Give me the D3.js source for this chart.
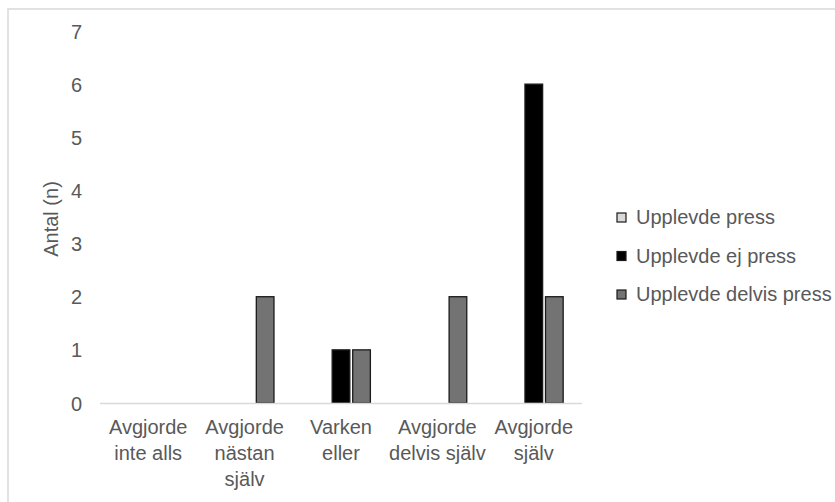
<!DOCTYPE html>
<html><head><meta charset="utf-8">
<script src="https://cdn.jsdelivr.net/npm/d3@7"></script>
<style>body{margin:0;background:#fff;} svg{display:block;font-family:"Liberation Sans",Arial,Helvetica,sans-serif;}</style>
</head><body>
<script>
const categories = ["Avgjorde inte alls", "Avgjorde nästan själv", "Varken eller", "Avgjorde delvis själv", "Avgjorde själv"];
const categoryLines = [["Avgjorde","inte alls"],["Avgjorde","nästan","själv"],["Varken","eller"],["Avgjorde","delvis själv"],["Avgjorde","själv"]];
const seriesNames = ["Upplevde press", "Upplevde ej press", "Upplevde delvis press"];
const pressValues = [0, 0, 0, 0, 0];
const ejPressValues = [0, 0, 1, 0, 6];
const delvisPressValues = [0, 2, 1, 2, 2];
const yTicks = [0, 1, 2, 3, 4, 5, 6, 7];
const colors = ["#d9d9d9", "#000000", "#737373"];

const seriesValues = [pressValues, ejPressValues, delvisPressValues];
const W = 835, H = 502;
const svg = d3.select("body").append("svg").attr("width", W).attr("height", H);

svg.append("rect").attr("x", 8).attr("y", 9).attr("width", 900).attr("height", 600)
  .attr("fill", "#fff").attr("stroke", "#d9d9d9").attr("stroke-width", 1.5);

const x = d3.scaleBand().domain(categories).range([100, 582]);
const x1 = d3.scaleBand().domain(seriesNames).range([-32.25, 32.25]).padding(0.14);
const y = d3.scaleLinear().domain([0, 7]).range([403, 31]);
const textColor = "#595959";
const fs = 20;

// y tick labels
const yAxis = d3.axisLeft(y).tickValues(yTicks).tickSize(0).tickPadding(0).tickFormat(d3.format("d"));
const gy = svg.append("g").attr("transform", "translate(82,0)").call(yAxis);
gy.select(".domain").remove();
gy.selectAll("text").attr("fill", textColor).style("font-size", fs + "px").attr("dy", "0.35em").attr("x", 0);

// axis title
svg.append("text").attr("transform", "translate(51,219) rotate(-90)")
  .attr("text-anchor", "middle").attr("dy", "0.35em")
  .attr("fill", textColor).style("font-size", fs + "px").text("Antal (n)");

// bars
const groups = svg.append("g").selectAll("g").data(categories).join("g")
  .attr("transform", d => `translate(${x(d) + x.bandwidth() / 2},0)`);
groups.selectAll("rect").data((d, i) => seriesNames.map((s, j) => ({s, j, v: seriesValues[j][i]})).filter(e => e.v > 0))
  .join("rect")
  .attr("x", e => x1(e.s)).attr("width", x1.bandwidth())
  .attr("y", e => y(e.v)).attr("height", e => y(0) - y(e.v))
  .attr("fill", e => colors[e.j]).attr("stroke", "#1a1a1a").attr("stroke-width", 1.3);

// baseline
svg.append("line").attr("x1", 100).attr("x2", 582).attr("y1", y(0) + 0.5).attr("y2", y(0) + 0.5)
  .attr("stroke", "#d9d9d9").attr("stroke-width", 1.5);

// x labels
const xl = svg.append("g").selectAll("text").data(categories).join("text")
  .attr("text-anchor", "middle").attr("fill", textColor).style("font-size", fs + "px")
  .attr("x", d => x(d) + x.bandwidth() / 2);
xl.each(function(d, i) {
  const t = d3.select(this);
  categoryLines[i].forEach((line, k) => {
    t.append("tspan").attr("x", x(d) + x.bandwidth() / 2).attr("y", 427 + k * 26).attr("dy", "0.35em").text(line);
  });
});

// legend
const lg = svg.append("g").selectAll("g").data(seriesNames).join("g")
  .attr("transform", (d, i) => `translate(617,${217 + i * 38.5})`);
lg.append("rect").attr("x", 0).attr("y", -4).attr("width", 9).attr("height", 9)
  .attr("fill", (d, i) => colors[i]).attr("stroke", "#1a1a1a").attr("stroke-width", 1.2);
lg.append("text").attr("x", 19).attr("dy", "0.35em").attr("fill", textColor)
  .style("font-size", fs + "px").text(d => d);
</script>
</body></html>
